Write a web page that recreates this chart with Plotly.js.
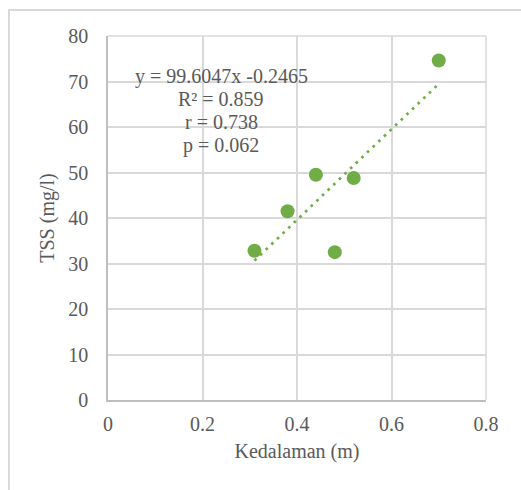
<!DOCTYPE html>
<html>
<head>
<meta charset="utf-8">
<script src="https://cdn.plot.ly/plotly-3.0.1.min.js"></script>
<style>
  html, body { margin: 0; padding: 0; background: #ffffff; }
  #wrap { position: relative; width: 521px; height: 490px; }
  #chart { width: 521px; height: 490px; }
  #frame { position: absolute; left: 8px; top: 9px; right: -2px; bottom: -2px;
           border-left: 2px solid #d9d9d9; border-top: 2px solid #d9d9d9;
           pointer-events: none; }
</style>
</head>
<body>
<div id="wrap">
  <div id="chart"></div>
  <div id="frame"></div>
</div>
<script>
// Data
const depth = [0.31, 0.38, 0.44, 0.48, 0.52, 0.70];          // Kedalaman (m)
const tss   = [32.8, 41.5, 49.5, 32.5, 48.8, 74.6];          // TSS (mg/l)
const slope = 99.6047;
const intercept = -0.2465;
const statLines = ["y = 99.6047x -0.2465", "R\u00b2 = 0.859", "r = 0.738", "p = 0.062"];
const xTicks = [0, 0.2, 0.4, 0.6, 0.8];
const xTickText = ["0", "0.2", "0.4", "0.6", "0.8"];
const yTicks = [0, 10, 20, 30, 40, 50, 60, 70, 80];

const green = "#70ad47";
const fontFam = "Liberation Serif";
const grey = "#595959";

const xMin = Math.min(...depth), xMax = Math.max(...depth);
const trendX = [xMin, xMax];
const trendY = trendX.map(v => slope * v + intercept);

const traces = [
  {
    x: trendX, y: trendY, type: "scatter", mode: "lines",
    line: { color: green, width: 2.7, dash: "2.7px,5.1px" },
    hoverinfo: "skip", showlegend: false
  },
  {
    x: depth, y: tss, type: "scatter", mode: "markers",
    marker: { color: green, size: 14 },
    showlegend: false
  }
];

const statY = [71.2, 66.2, 61.1, 56.0];
const annotations = statLines.map((t, i) => ({
  text: t, x: 0.24, y: statY[i], xref: "x", yref: "y",
  showarrow: false, xanchor: "center", yanchor: "middle",
  font: { family: fontFam, size: 20, color: grey }
}));

// light frame lines at the far edges of the plot area (top and right gridlines)
const shapes = [
  { type: "line", xref: "paper", yref: "paper", x0: 1, x1: 1, y0: 0, y1: 1,
    line: { color: "#d9d9d9", width: 1.5 }, layer: "below" },
  { type: "line", xref: "paper", yref: "paper", x0: 0, x1: 1, y0: 1, y1: 1,
    line: { color: "#d9d9d9", width: 1.5 }, layer: "below" }
];

const layout = {
  width: 521, height: 490,
  margin: { l: 108, r: 35, t: 36, b: 90 },
  paper_bgcolor: "#ffffff", plot_bgcolor: "#ffffff",
  font: { family: fontFam, size: 20, color: grey },
  xaxis: {
    range: [0, 0.8], tickvals: xTicks, ticktext: xTickText,
    showgrid: true, gridcolor: "#d9d9d9", gridwidth: 1.5,
    zeroline: false, showline: true, linecolor: "#bfbfbf", linewidth: 1.5,
    ticks: "", ticklabelstandoff: 5,
    tickfont: { family: fontFam, size: 20, color: grey },
    title: { text: "Kedalaman (m)", font: { family: fontFam, size: 20, color: grey }, standoff: 10 }
  },
  yaxis: {
    range: [0, 80], tickvals: yTicks,
    showgrid: true, gridcolor: "#d9d9d9", gridwidth: 1.5,
    zeroline: false, showline: true, linecolor: "#bfbfbf", linewidth: 1.5,
    ticks: "", ticklabelstandoff: 14,
    tickfont: { family: fontFam, size: 20, color: grey },
    title: { text: "TSS (mg/l)", font: { family: fontFam, size: 20, color: grey }, standoff: 8 }
  },
  shapes: shapes,
  annotations: annotations,
  showlegend: false
};

Plotly.newPlot("chart", traces, layout, { displayModeBar: false });
</script>
</body>
</html>
